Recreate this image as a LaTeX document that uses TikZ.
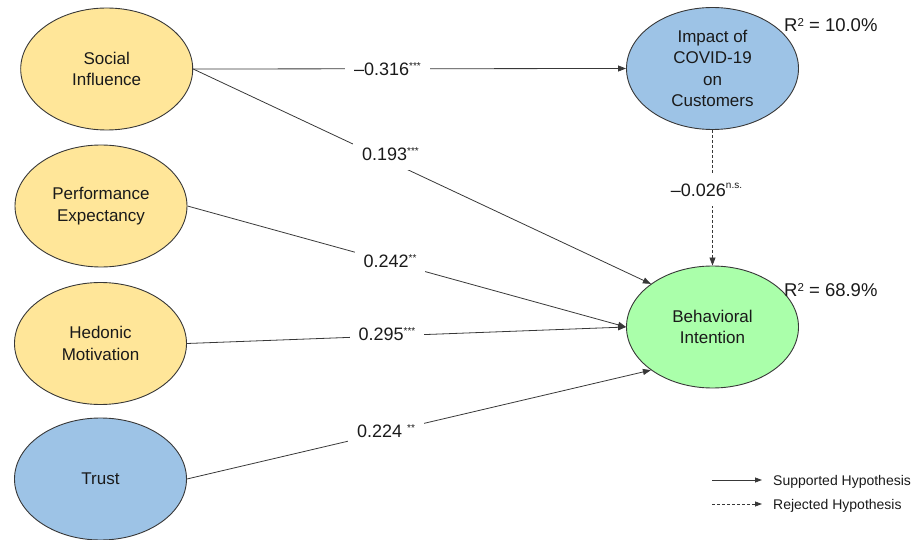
\documentclass[tikz,border=0pt]{standalone}
\usepackage{fontspec}
\setmainfont{Liberation Sans}
\usetikzlibrary{shapes.geometric,arrows.meta}
\definecolor{cyel}{HTML}{FFE699}
\definecolor{cblue}{HTML}{9DC3E6}
\definecolor{cgreen}{HTML}{AAFFAA}
\definecolor{cline}{HTML}{383838}
\definecolor{ctext}{HTML}{1A1A1A}
\newcommand\mysup[2]{\raisebox{#1}{\fontsize{10}{10}\selectfont #2}}
\begin{document}
\begin{tikzpicture}[x=1pt,y=-1pt,
  construct/.style={ellipse, draw=cline, line width=0.9pt, minimum width=172pt, minimum height=122pt, inner sep=0pt, align=center, text=ctext, font=\fontsize{17}{21.5}\selectfont},
  conn/.style={draw=cline, line width=0.8pt, -{Triangle[length=8pt,width=6pt]}},
  rej/.style={conn, dash pattern=on 3pt off 2pt},
  legconn/.style={draw=cline, line width=0.8pt, -{Triangle[length=7pt,width=5pt]}},
  coef/.style={fill=white, inner xsep=9pt, inner ysep=9pt, anchor=base, text=ctext, font=\fontsize{18}{21}\selectfont},
  rsq/.style={anchor=base west, inner sep=0pt, text=ctext, font=\fontsize{18.5}{21}\selectfont},
  legtext/.style={anchor=base west, inner sep=0pt, text=ctext, font=\fontsize{14}{17}\selectfont}]
\useasboundingbox (0,0) rectangle (916,540);

% constructs
\node[construct, fill=cyel] (soc) at (106.7,69) {Social\\Influence};
\node[construct, fill=cyel] (perf) at (101,206) {Performance\\Expectancy};
\node[construct, fill=cyel] (hed) at (100.5,343.5) {Hedonic\\Motivation};
\node[construct, fill=cblue] (trust) at (100.5,479) {Trust};
\node[construct, fill=cblue] (imp) at (712.5,68.5) {Impact of\\COVID-19\\on\\Customers};
\node[construct, fill=cgreen] (beh) at (712.5,327) {Behavioral\\Intention};

% paths
\draw[conn] (soc.east) -- (imp.west);
\draw[conn] (soc.east) -- (beh.145);
\draw[conn] (perf.east) -- (beh.west);
\draw[conn] (hed.east) -- (beh.west);
\draw[conn] (trust.east) -- (beh.215);
\draw[rej] (imp.south) -- (beh.north);

% coefficients
\node[coef] (c1) at (387.5,76) {–0.316\mysup{6pt}{***}};
\node[coef] (c2) at (390.5,160.7) {0.193\mysup{6pt}{***}};
\node[coef] (c3) at (390,268) {0.242\mysup{6pt}{**}};
\node[coef] (c4) at (387,340) {0.295\mysup{6pt}{***}};
\node[coef] (c5) at (386,437.3) {0.224 \mysup{6pt}{**}};
\node[coef] (c6) at (706.5,196.7) {–0.026\mysup{8pt}{n.s.}};

% R squared
\node[rsq] (r1) at (784,31.7) {R\mysup{5.5pt}{\fontsize{11.5}{11.5}\selectfont 2} = 10.0\%};
\node[rsq] (r2) at (784,296.7) {R\mysup{5.5pt}{\fontsize{11.5}{11.5}\selectfont 2} = 68.9\%};

% legend
\coordinate (l1a) at (712,480);
\coordinate (l1b) at (762,480);
\coordinate (l2a) at (712,504);
\coordinate (l2b) at (762,504);
\draw[legconn] (l1a) -- (l1b);
\draw[legconn, dash pattern=on 3pt off 2pt] (l2a) -- (l2b);
\node[legtext] (l1t) at (773,485.5) {Supported Hypothesis};
\node[legtext] (l2t) at (773,509) {Rejected Hypothesis};
\end{tikzpicture}
\end{document}
